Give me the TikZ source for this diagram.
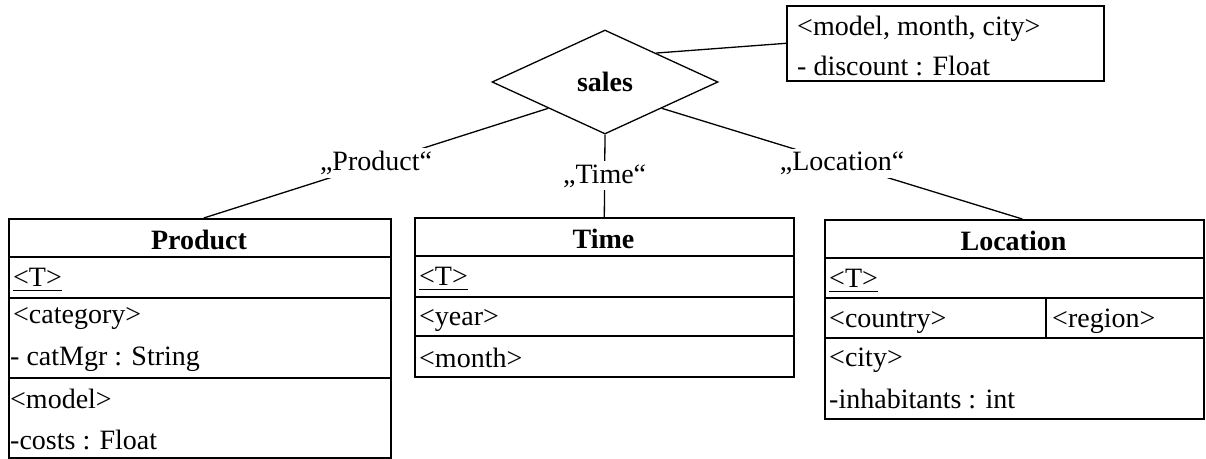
\documentclass[tikz,border=0pt]{standalone}
\usepackage{fontspec}
\setmainfont{Liberation Serif}
\usetikzlibrary{shapes.geometric,calc}

\begin{document}
\begin{tikzpicture}[x=1pt,y=-1pt,
  box/.style={draw,line width=1.6pt,rectangle,inner sep=0pt,anchor=north west},
  rule/.style={line width=1.6pt},
  txt/.style={anchor=base west,inner sep=0pt,font=\fontsize{28}{33}\selectfont},
  head/.style={anchor=base,inner sep=0pt,font=\fontsize{28}{33}\selectfont\bfseries},
  conn/.style={line width=1.3pt},
  lbl/.style={fill=white,inner sep=3pt,font=\fontsize{28}{33}\selectfont},
]
\useasboundingbox (0,0) rectangle (1206,458);

% relationship diamond and its attribute box
\node[draw,diamond,line width=1.3pt,minimum width=226pt,minimum height=104pt,
      inner sep=0pt,font=\fontsize{28}{33}\selectfont\bfseries] (sales) at (605,82) {sales};
\node[box,minimum width=317pt,minimum height=75pt] (attr) at (786,5) {};
\node[txt] (attr1) at (797,35) {<model, month, city>};
\node[txt] (attr2) at (797,75) {- discount : Float};

% Product dimension
\node[box,minimum width=382pt,minimum height=239pt] (prod) at (8,218) {};
\draw[rule] (8,257) -- (390,257);
\draw[rule] (8,298) -- (390,298);
\draw[rule] (8,378) -- (390,378);
\node[head] (prodh) at (199,249) {Product};
\node[txt] (prodt) at (13,286) {<T>};
\draw[rule] ($(prodt.base west)+(0,4.5)$) -- ($(prodt.base east)+(0,4.5)$);
\node[txt] (prodc) at (13,323) {<category>};
\node[txt] (prodm) at (10,365) {- catMgr : String};
\node[txt] (prodo) at (10,408) {<model>};
\node[txt] (prodk) at (10,449) {-costs : Float};

% Time dimension
\node[box,minimum width=379pt,minimum height=159pt] (timeb) at (414,217) {};
\draw[rule] (414,256) -- (793,256);
\draw[rule] (414,297) -- (793,297);
\draw[rule] (414,336) -- (793,336);
\node[head] (timeh) at (603.5,248) {Time};
\node[txt] (timet) at (419,285) {<T>};
\draw[rule] ($(timet.base west)+(0,4.5)$) -- ($(timet.base east)+(0,4.5)$);
\node[txt] (timey) at (419,325) {<year>};
\node[txt] (timem) at (419,367) {<month>};

% Location dimension
\node[box,minimum width=379pt,minimum height=199pt] (loc) at (824,219) {};
\draw[rule] (824,258) -- (1203,258);
\draw[rule] (824,298) -- (1203,298);
\draw[rule] (824,338) -- (1203,338);
\draw[rule] (1046,298) -- (1046,338);
\node[head] (loch) at (1013.5,250) {Location};
\node[txt] (loct) at (829,287) {<T>};
\draw[rule] ($(loct.base west)+(0,4.5)$) -- ($(loct.base east)+(0,4.5)$);
\node[txt] (locc) at (829,327) {<country>};
\node[txt] (locr) at (1052,327) {<region>};
\node[txt] (locy) at (829,366) {<city>};
\node[txt] (loci) at (829,408) {-inhabitants : int};

% connectors
\coordinate (sNE) at ($(sales.north)!0.45!(sales.east)$);
\coordinate (sSW) at ($(sales.west)!0.5!(sales.south)$);
\coordinate (sSE) at ($(sales.south)!0.5!(sales.east)$);
\draw[conn] (sNE) -- (attr.west);
\draw[conn] (sSW) -- ([xshift=4pt]prod.north) node[lbl,midway] {„Product“};
\draw[conn] (sales.south) -- (timeb.north) node[lbl,midway] {„Time“};
\draw[conn] (sSE) -- ([xshift=8pt]loc.north) node[lbl,midway] {„Location“};
\end{tikzpicture}
\end{document}
